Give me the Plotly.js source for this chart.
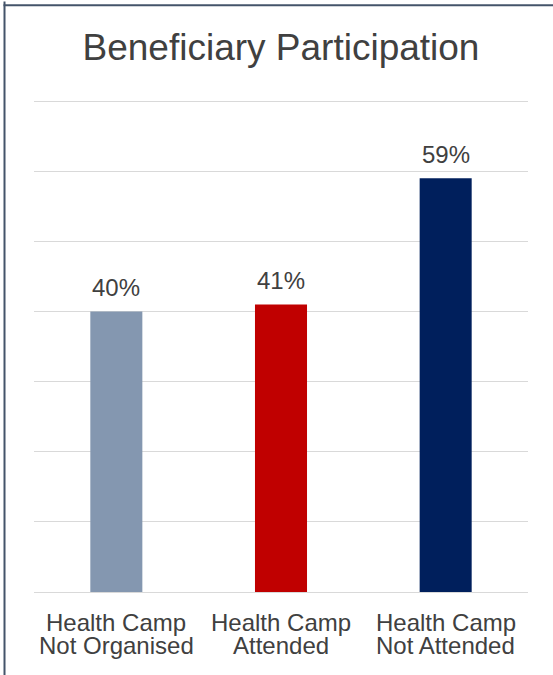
<!DOCTYPE html>
<html>
<head>
<meta charset="utf-8">
<script src="https://cdn.plot.ly/plotly-3.0.1.min.js"></script>
<style>html,body{margin:0;padding:0;background:#fff;}#chart{width:553px;height:675px;}</style>
</head>
<body>
<div id="chart"></div>
<script>
var categories = ["Health Camp<br>Not Organised", "Health Camp<br>Attended", "Health Camp<br>Not Attended"];
var values = [40, 41, 59];
var barColors = ["#8497B0", "#C00000", "#001F5C"];
var chartTitle = "Beneficiary Participation";

var FONT = "Liberation Sans, Arial, Helvetica, sans-serif";
var TXT = "#404040";

var annotations = [];
values.forEach(function (v, i) {
  annotations.push({
    x: categories[i], y: v, xref: "x", yref: "y",
    text: v + "%", showarrow: false, yanchor: "bottom", yshift: 8,
    font: {family: FONT, size: 24, color: TXT}
  });
});
categories.forEach(function (c) {
  var lines = c.split("<br>");
  lines.forEach(function (ln, j) {
    annotations.push({
      x: c, y: 0, xref: "x", yref: "y",
      text: ln, showarrow: false, yanchor: "top", yshift: -15 - 23 * j,
      font: {family: FONT, size: 24, color: TXT}
    });
  });
});

var trace = {
  type: "bar",
  x: categories,
  y: values,
  marker: {color: barColors},
  hoverinfo: "none"
};

var layout = {
  width: 553, height: 675,
  margin: {l: 34, r: 25, t: 100, b: 83, pad: 0},
  paper_bgcolor: "#ffffff", plot_bgcolor: "#ffffff",
  showlegend: false,
  bargap: 0.684,
  title: {
    text: chartTitle,
    font: {family: FONT, size: 37, color: TXT},
    x: 0.5, xref: "paper", xanchor: "center",
    y: 1 - 47 / 675, yref: "container", yanchor: "middle"
  },
  xaxis: {
    type: "category", showticklabels: false, showgrid: false, zeroline: false,
    showline: false, ticks: ""
  },
  yaxis: {
    range: [0, 70.15], dtick: 10, tick0: 0, showticklabels: false,
    showgrid: true, gridcolor: "#D9D9D9", gridwidth: 1,
    zeroline: true, zerolinecolor: "#D9D9D9", zerolinewidth: 1,
    showline: false, ticks: ""
  },
  annotations: annotations,
  shapes: [
    {type: "line", xref: "paper", yref: "paper", x0: -0.0597, x1: -0.0597, y0: 1.2, y1: -0.2,
     line: {color: "#44546A", width: 2}},
    {type: "line", xref: "paper", yref: "paper", x0: -0.0617, x1: 1.1, y0: 1.1925, y1: 1.1925,
     line: {color: "#44546A", width: 2}}
  ]
};

Plotly.newPlot("chart", [trace], layout, {staticPlot: true, displayModeBar: false});
</script>
</body>
</html>
